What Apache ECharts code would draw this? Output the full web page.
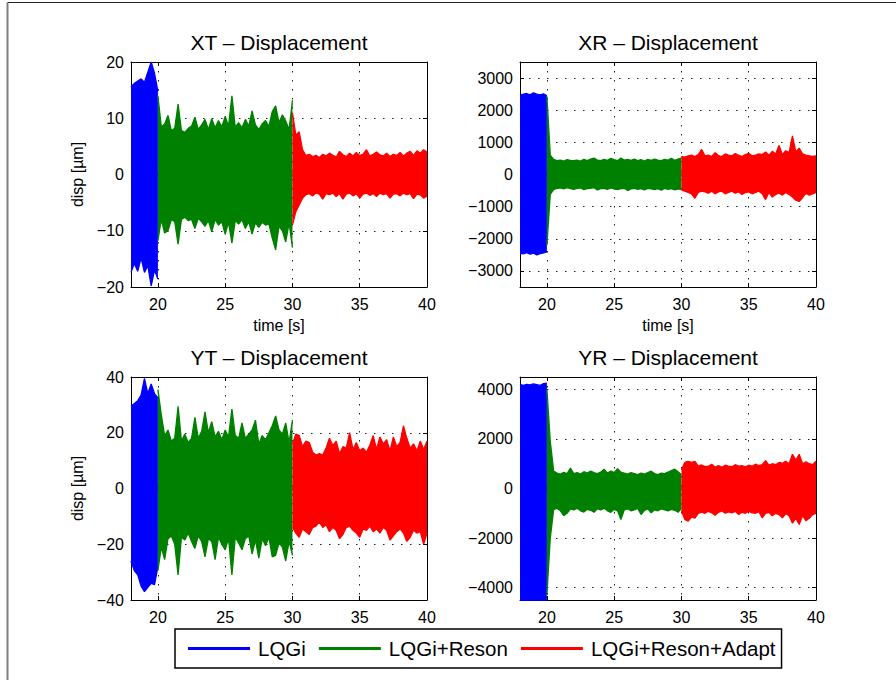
<!DOCTYPE html>
<html>
<head>
<meta charset="utf-8">
<title>Displacement</title>
<script src="https://cdn.jsdelivr.net/npm/echarts@6/dist/echarts.min.js"></script>
<style>
  html, body { margin: 0; padding: 0; background: #fff; }
  #chart { width: 896px; height: 680px; }
</style>
</head>
<body>
<div id="chart"></div>
<script>
// Controller names shown in the legend
const controllers = ['LQGi', 'LQGi+Reson', 'LQGi+Reson+Adapt'];
const colors = ['#0000ff', '#008000', '#ff0000'];

// Sample instants (s) of the signal envelopes for each controller phase
function sampleTimes(t0, t1, dt) {
  const out = [];
  for (let k = 0; t0 + k * dt <= t1 + 1e-9; k++) out.push(+(t0 + k * dt).toFixed(2));
  return out;
}
const blueTimes = sampleTimes(18, 20, 0.25);
const greenTimes = sampleTimes(20, 30, 0.25);
const redTimes = sampleTimes(30, 40, 0.25);

// ---- XT displacement envelopes [µm] ----
const xtBlueHi = [15.6, 16.2, 16.6, 17.0, 16.4, 18.2, 20.0, 18.0, 14.8];
const xtBlueLo = [-17.4, -15.8, -17.2, -14.8, -17.4, -16.2, -19.8, -17.0, -18.6];
const xtGreenHi = [14.0, 8.5, 9.0, 10.5, 7.8, 8.2, 12.5, 7.8, 7.5, 8.2, 8.6, 10.2, 8.0, 8.8, 9.8, 8.0, 9.9, 8.3, 9.6, 8.5,
  10.3, 8.6, 14.0, 8.4, 9.2, 8.3, 9.8, 8.6, 11.3, 8.8, 8.0, 9.0, 9.6, 8.5, 11.2, 12.2, 9.2, 10.6, 9.5, 8.0, 13.2];
const xtGreenLo = [-11.8, -8.0, -10.4, -10.0, -8.0, -8.4, -12.4, -8.0, -7.6, -8.2, -8.0, -9.6, -7.8, -8.4, -9.2, -8.2, -10.2, -8.0, -9.0, -8.4,
  -10.6, -8.5, -12.2, -8.2, -8.8, -8.0, -9.6, -8.4, -10.6, -8.6, -9.4, -8.5, -9.0, -8.8, -11.3, -13.4, -9.2, -10.0, -12.0, -8.6, -13.0];
const xtRedHi = [11.0, 7.0, 7.6, 4.4, 3.4, 3.6, 3.2, 3.4, 3.0, 3.6, 3.3, 3.8, 3.4, 3.1, 4.1, 3.5, 3.2, 3.8, 3.3, 3.9,
  3.4, 3.6, 4.4, 3.3, 3.6, 4.0, 3.5, 3.3, 3.8, 3.2, 3.6, 3.4, 3.9, 3.3, 3.8, 4.1, 3.4, 4.2, 3.8, 4.4, 4.0];
const xtRedLo = [-9.0, -6.6, -5.4, -4.2, -3.6, -3.4, -3.8, -3.3, -3.5, -4.4, -3.4, -3.6, -3.3, -3.9, -3.4, -4.4, -3.5, -3.3, -3.8, -3.4,
  -4.2, -3.5, -3.3, -3.7, -3.4, -3.9, -3.3, -3.6, -3.4, -4.2, -3.5, -3.4, -3.8, -3.3, -3.6, -3.4, -4.3, -3.5, -3.6, -4.2, -3.8];

// ---- XR displacement envelopes ----
const xrBlueHi = [2460, 2500, 2520, 2480, 2540, 2500, 2480, 2510, 2450];
const xrBlueLo = [-2450, -2470, -2430, -2480, -2450, -2500, -2460, -2440, -2410];
const xrGreenHi = [2430, 600, 470, 430, 450, 420, 460, 440, 430, 450, 420, 470, 430, 480, 510, 450, 430, 470, 440, 500,
  460, 430, 510, 450, 470, 440, 480, 430, 460, 420, 470, 440, 480, 450, 430, 470, 450, 500, 440, 480, 520];
const xrGreenLo = [-2200, -620, -470, -430, -420, -450, -410, -440, -460, -430, -420, -470, -440, -430, -410, -480, -440, -430, -460, -420,
  -450, -470, -440, -430, -500, -450, -430, -460, -440, -480, -430, -450, -470, -440, -490, -430, -460, -440, -480, -450, -470];
const xrRedHi = [560, 540, 580, 600, 560, 620, 780, 580, 600, 560, 680, 590, 560, 640, 600, 580, 650, 600, 560, 620,
  660, 580, 600, 640, 620, 700, 600, 720, 640, 900, 620, 740, 680, 1200, 700, 820, 640, 600, 580, 560, 580];
const xrRedLo = [-480, -520, -560, -600, -740, -560, -520, -540, -580, -520, -600, -540, -520, -600, -560, -520, -580, -540, -620, -560,
  -540, -600, -560, -520, -600, -780, -560, -700, -620, -580, -640, -560, -620, -700, -800, -840, -720, -580, -640, -600, -560];

// ---- YT displacement envelopes [µm] ----
const ytBlueHi = [29.5, 30.5, 31.5, 33.5, 39.5, 34.0, 37.5, 34.0, 32.5];
const ytBlueLo = [-26.0, -29.5, -31.0, -35.0, -37.0, -35.5, -34.0, -34.5, -28.0];
const ytGreenHi = [35.5, 26.5, 19.0, 21.0, 17.0, 18.0, 29.5, 17.0, 19.5, 16.5, 18.0, 25.5, 18.0, 20.5, 27.5, 20.0, 24.0, 18.5, 20.5, 17.5,
  21.0, 18.5, 28.5, 19.0, 18.0, 23.5, 18.0, 19.5, 21.0, 24.5, 16.0, 19.0, 17.5, 20.0, 22.5, 26.0, 21.0, 19.5, 23.5, 16.5, 24.5];
const ytGreenLo = [-29.5, -21.0, -25.5, -18.0, -17.0, -20.0, -31.0, -17.5, -18.5, -16.0, -19.0, -21.5, -17.0, -19.0, -24.5, -18.0, -19.0, -25.5, -17.5, -20.0,
  -22.0, -18.0, -31.0, -17.5, -19.5, -22.0, -18.0, -17.0, -23.5, -18.5, -25.0, -18.0, -20.5, -17.5, -24.5, -24.0, -19.5, -21.0, -26.0, -19.0, -24.0];
const ytRedHi = [16.0, 19.5, 19.0, 15.0, 17.0, 16.5, 13.0, 12.0, 12.5, 12.0, 14.5, 18.0, 15.5, 17.0, 12.5, 15.0, 14.5, 20.0, 14.0, 16.5,
  13.5, 14.5, 13.0, 15.5, 19.0, 14.0, 18.5, 16.0, 17.5, 13.5, 18.5, 15.0, 16.5, 22.5, 18.0, 14.5, 16.0, 13.5, 17.0, 14.0, 17.0];
const ytRedLo = [-14.0, -16.0, -17.5, -14.5, -15.5, -16.5, -14.0, -13.5, -12.0, -14.0, -13.0, -15.5, -14.0, -15.0, -18.0, -16.5, -14.0, -13.5, -15.0, -16.0,
  -17.5, -14.5, -15.0, -13.5, -15.5, -14.5, -16.0, -14.0, -15.0, -18.5, -17.0, -15.5, -14.5, -16.0, -19.0, -17.5, -15.0, -16.0, -15.5, -20.0, -16.0];

// ---- YR displacement envelopes ----
const yrBlueHi = [4200, 4160, 4200, 4180, 4220, 4190, 4160, 4230, 4250];
const yrBlueLo = [-4550, -4560, -4540, -4570, -4550, -4560, -4540, -4550, -4560];
const yrGreenHi = [4000, 1900, 700, 620, 580, 650, 600, 820, 600, 640, 580, 680, 620, 700, 640, 600, 660, 780, 620, 700,
  640, 800, 660, 620, 580, 640, 600, 560, 620, 580, 640, 700, 600, 560, 620, 600, 660, 720, 780, 680, 560];
const yrGreenLo = [-4300, -2000, -850, -800, -900, -1100, -1000, -820, -860, -800, -900, -950, -840, -880, -960, -820, -860, -800, -900, -960,
  -840, -900, -1250, -860, -820, -900, -860, -800, -1050, -880, -820, -980, -860, -900, -820, -860, -900, -840, -880, -960, -800];
const yrRedHi = [750, 1050, 1100, 1050, 1100, 900, 950, 880, 900, 980, 860, 920, 860, 940, 900, 880, 960, 900, 920, 870,
  940, 900, 980, 920, 960, 1120, 940, 1000, 960, 1050, 1020, 1100, 1000, 1380, 1150, 1380, 1000, 1080, 1000, 960, 1100];
const yrRedLo = [-900, -1250, -1320, -1150, -1200, -1000, -950, -1000, -920, -980, -1080, -960, -900, -1000, -940, -980, -920, -1050, -960, -1000,
  -920, -980, -1000, -940, -1180, -1000, -960, -1100, -1000, -1050, -1180, -1020, -1100, -1400, -1200, -1450, -1100, -1300, -1200, -1050, -1000];

// Axis ranges and tick labels
const timeRange = [18, 40];
const timeTicks = [20, 25, 30, 35, 40];
const xtRange = [-20, 20], xtTicks = [-20, -10, 0, 10, 20];
const xrRange = [-3500, 3500], xrTicks = [-3000, -2000, -1000, 0, 1000, 2000, 3000];
const ytRange = [-40, 40], ytTicks = [-40, -20, 0, 20, 40];
const yrRange = [-4500, 4500], yrTicks = [-4000, -2000, 0, 2000, 4000];

const panelTitles = ['XT \u2013 Displacement', 'XR \u2013 Displacement', 'YT \u2013 Displacement', 'YR \u2013 Displacement'];
const timeLabel = 'time [s]';
const dispLabel = 'disp [\u00b5m]';

const FONT = '"Liberation Sans", Arial, Helvetica, sans-serif';

// Panel layout (pixels)
const panels = [
  { left: 131, top: 62, width: 296, height: 225, range: xtRange, ticks: xtTicks, xName: timeLabel, yName: dispLabel,
    bands: [[xtBlueHi, xtBlueLo], [xtGreenHi, xtGreenLo], [xtRedHi, xtRedLo]] },
  { left: 520, top: 62, width: 296, height: 225, range: xrRange, ticks: xrTicks, xName: timeLabel, yName: '',
    bands: [[xrBlueHi, xrBlueLo], [xrGreenHi, xrGreenLo], [xrRedHi, xrRedLo]] },
  { left: 131, top: 377, width: 296, height: 223, range: ytRange, ticks: ytTicks, xName: '', yName: dispLabel,
    bands: [[ytBlueHi, ytBlueLo], [ytGreenHi, ytGreenLo], [ytRedHi, ytRedLo]] },
  { left: 520, top: 377, width: 296, height: 223, range: yrRange, ticks: yrTicks, xName: '', yName: '',
    bands: [[yrBlueHi, yrBlueLo], [yrGreenHi, yrGreenLo], [yrRedHi, yrRedLo]] }
];
const phaseTimes = [blueTimes, greenTimes, redTimes];

const minus = v => String(v).replace('-', '\u2212');
const pairs = (ts, vs) => ts.map((t, i) => [t, vs[i]]);
const dotted = { color: '#222', width: 1, type: [1.5, 7.5] };

const grids = [], xAxes = [], yAxes = [], series = [], graphics = [];

panels.forEach((p, i) => {
  grids.push({ left: p.left, top: p.top, width: p.width, height: p.height, containLabel: false });
  xAxes.push({
    type: 'value', gridIndex: i, min: timeRange[0], max: timeRange[1], position: 'bottom',
    name: p.xName, nameLocation: 'middle', nameGap: 30,
    nameTextStyle: { color: '#000', fontSize: 16, fontFamily: FONT },
    axisLine: { onZero: false, lineStyle: { color: '#000', width: 1 } },
    axisTick: { inside: true, length: 4, customValues: timeTicks, lineStyle: { color: '#000' } },
    axisLabel: { customValues: timeTicks, margin: 9, color: '#000', fontSize: 16, fontFamily: FONT },
    splitLine: { show: true, lineStyle: dotted }
  });
  yAxes.push({
    type: 'value', gridIndex: i, min: p.range[0], max: p.range[1], position: 'left',
    name: p.yName, nameLocation: 'middle', nameGap: 46, nameRotate: 90,
    nameTextStyle: { color: '#000', fontSize: 16, fontFamily: FONT },
    axisLine: { show: true, onZero: false, lineStyle: { color: '#000', width: 1 } },
    axisTick: { show: true, inside: true, length: 4, customValues: p.ticks, lineStyle: { color: '#000' } },
    axisLabel: { customValues: p.ticks, margin: 7, color: '#000', fontSize: 16, fontFamily: FONT, formatter: minus },
    splitLine: { show: true, lineStyle: dotted }
  });
  // Each phase is a filled band: the upper envelope is filled down to just
  // below zero and the lower envelope up to just above it, so the two
  // fills overlap slightly and leave no seam along the zero line.
  const overlap = (p.range[1] - p.range[0]) * 0.01;
  p.bands.forEach((b, k) => {
    [[b[0], -overlap], [b[1], overlap]].forEach(([vals, origin]) => {
      series.push({
        type: 'line', name: controllers[k], xAxisIndex: i, yAxisIndex: i,
        data: pairs(phaseTimes[k], vals),
        symbol: 'none', showSymbol: false, silent: true, clip: true,
        itemStyle: { color: colors[k] },
        lineStyle: { color: colors[k], width: 1.3 },
        areaStyle: { color: colors[k], opacity: 1, origin: origin },
        emphasis: { disabled: true },
        z: 2 + k
      });
    });
  });
  graphics.push({
    type: 'text', x: p.left + p.width / 2, y: p.top - 20,
    style: { text: panelTitles[i], fontSize: 21, fontFamily: FONT, fill: '#000', align: 'center', verticalAlign: 'middle' }
  });
});

// Mirrored box axes (top and right) with inward ticks
panels.forEach((p, i) => {
  xAxes.push({
    type: 'value', gridIndex: i, min: timeRange[0], max: timeRange[1], position: 'top',
    axisLine: { onZero: false, lineStyle: { color: '#000', width: 1 } },
    axisTick: { inside: true, length: 4, customValues: timeTicks, lineStyle: { color: '#000' } },
    axisLabel: { show: false }, splitLine: { show: false }
  });
  yAxes.push({
    type: 'value', gridIndex: i, min: p.range[0], max: p.range[1], position: 'right',
    axisLine: { show: true, onZero: false, lineStyle: { color: '#000', width: 1 } },
    axisTick: { show: true, inside: true, length: 4, customValues: p.ticks, lineStyle: { color: '#000' } },
    axisLabel: { show: false }, splitLine: { show: false }
  });
});

// Figure frame
graphics.push(
  { type: 'line', shape: { x1: 7.5, y1: 2.5, x2: 896, y2: 2.5 }, style: { stroke: '#222', lineWidth: 1.2 } },
  { type: 'line', shape: { x1: 7.5, y1: 2.5, x2: 7.5, y2: 680 }, style: { stroke: '#808080', lineWidth: 2 } }
);

const chart = echarts.init(document.getElementById('chart'), null, { renderer: 'svg', width: 896, height: 680 });
chart.setOption({
  animation: false,
  backgroundColor: '#fff',
  grid: grids,
  xAxis: xAxes,
  yAxis: yAxes,
  series: series,
  graphic: graphics,
  legend: {
    data: controllers.map(n => ({ name: n, icon: 'rect' })),
    left: 175, top: 629,
    orient: 'horizontal',
    itemWidth: 62, itemHeight: 3, itemGap: 13,
    padding: [9, 6, 9, 13],
    borderColor: '#000', borderWidth: 1.5,
    backgroundColor: '#fff',
    selectedMode: false,
    textStyle: { color: '#000', fontSize: 20.5, fontFamily: FONT, padding: [0, 0, 0, 3] }
  }
});
</script>
</body>
</html>
